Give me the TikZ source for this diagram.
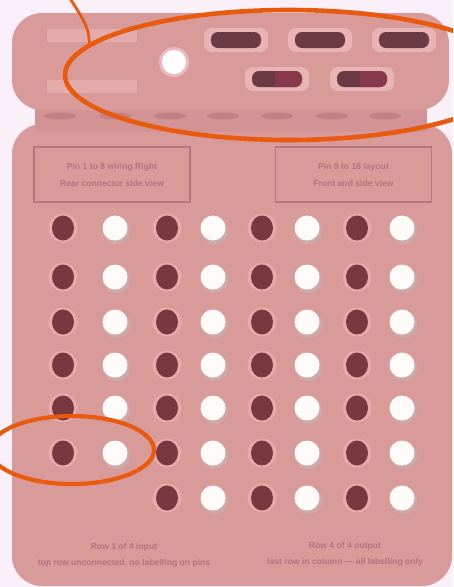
\documentclass[tikz,border=0pt]{standalone}
\usepackage{fontspec}
\setmainfont{Liberation Sans}
\usetikzlibrary{shapes.geometric}
\definecolor{bgc}{HTML}{FAF0FA}
\definecolor{bodyc}{HTML}{D99A9A}
\definecolor{stripc}{HTML}{D39293}
\definecolor{slotc}{HTML}{C28186}
\definecolor{barc}{HTML}{E3ACAB}
\definecolor{portout}{HTML}{E8B5B4}
\definecolor{portin}{HTML}{6B3A44}
\definecolor{portred}{HTML}{86394A}
\definecolor{darkc}{HTML}{793840}
\definecolor{ringc}{HTML}{E9A8AB}
\definecolor{whitec}{HTML}{FFFBF8}
\definecolor{shadc}{HTML}{CDAAAA}
\definecolor{boxc}{HTML}{B47780}
\definecolor{textc}{HTML}{B17480}
\definecolor{orng}{HTML}{E85A0E}
\tikzset{
  ring/.style={circle, fill=ringc, minimum size=29pt, inner sep=0pt},
  darkdot/.style={ellipse, fill=darkc, minimum width=22pt, minimum height=25pt, inner sep=0pt},
  shadowdot/.style={circle, fill=shadc, minimum size=27pt, inner sep=0pt},
  whitedot/.style={circle, fill=whitec, minimum size=25pt, inner sep=0pt},
  portbox/.style={rectangle, rounded corners=8pt, fill=portout, minimum width=64pt, minimum height=24pt, inner sep=0pt},
  portslot/.style={rectangle, rounded corners=7pt, fill=portin, minimum width=50pt, minimum height=16pt, inner sep=0pt},
  slot/.style={ellipse, fill=slotc, minimum width=32pt, minimum height=7pt, inner sep=0pt},
  bar/.style={rectangle, fill=barc, minimum width=90pt, minimum height=13pt, inner sep=0pt},
  labelbox/.style={rectangle, draw=boxc, line width=1.3pt, minimum width=156pt, minimum height=55pt, inner sep=0pt, text=textc, align=center, font=\bfseries\fontsize{8.6}{17}\selectfont},
  caption/.style={text=textc, align=center, font=\bfseries\fontsize{8.6}{16}\selectfont, inner sep=0pt},
  mark ellipse/.style={ellipse, draw=orng, inner sep=0pt},
}
\begin{document}
\begin{tikzpicture}[x=1pt,y=-1pt]
\useasboundingbox (0,0) rectangle (453,587);
\fill[bgc] (0,0) rectangle (453,587);
\begin{scope}
\clip (0,0) rectangle (453,587);
% lower unit
\fill[bodyc, rounded corners=30pt] (12,124) rectangle (452,586);
% strip between units
\fill[stripc] (35,104) rectangle (427,132);
\foreach \i/\x in {1/60,2/115,3/170,4/223,5/277,6/332,7/385}
  \node[slot] (s\i) at (\x,116) {};
% upper unit
\fill[bodyc, rounded corners=30pt] (12,13) rectangle (449,110);
\node[bar] (bar1) at (92,35) {};
\node[bar] (bar2) at (92,86) {};
\node[circle, fill=ringc!80!white, minimum size=30pt, inner sep=0pt] (led) at (174,62) {};
\node[circle, fill=white, minimum size=24pt, inner sep=0pt] at (led) {};
% ports
\foreach \n/\x/\y in {p1/236/40, p2/320/40, p3/404/40, p4/277/79, p5/362/79} {
  \node[portbox] (\n) at (\x,\y) {};
  \node[portslot] (\n in) at (\x,\y) {};
}
\foreach \n in {p4,p5} {
  \begin{scope}
    \clip ([xshift=-2pt]\n in.north) rectangle (\n in.south east);
    \node[portslot, fill=portred] at (\n in) {};
  \end{scope}
}
% label boxes
\node[labelbox] (lbox) at (112,174.5) {Pin 1 to 8 wiring Right\\Rear connector side view};
\node[labelbox] (rbox) at (353.5,174.5) {Pin 9 to 16 layout\\Front and side view};
% dot grid
\foreach \r/\y in {1/228,2/277,3/322,4/365,5/408,6/453} {
  \foreach \c/\x in {1/63,2/115,3/167,4/213,5/262,6/307,7/357,8/402} {
    \ifodd\c
      \node[ring] at (\x,\y) {};
      \node[darkdot] (d\r-\c) at (\x,\y) {};
    \else
      \node[shadowdot] at (\x+1.5,\y+2.5) {};
      \node[whitedot] (d\r-\c) at (\x,\y) {};
    \fi
  }
}
\foreach \c/\x in {3/167,4/213,5/262,6/307,7/357,8/402} {
  \ifodd\c
    \node[ring] at (\x,498) {};
    \node[darkdot] (d7-\c) at (\x,498) {};
  \else
    \node[shadowdot] at (\x+1.5,500.5) {};
    \node[whitedot] (d7-\c) at (\x,498) {};
  \fi
}
% captions
\node[caption] (capl) at (124,555) {Row 1 of 4 input\\top row unconnected, no labelling on pins};
\node[caption] (capr) at (345,554) {Row 4 of 4 output\\last row in column --- all labelling only};
% orange highlights
\node[mark ellipse, line width=4.6pt, minimum width=448pt, minimum height=130pt] (ebig) at (289,75) {};
\node[mark ellipse, line width=4.2pt, minimum width=164pt, minimum height=68pt] (esmall) at (72,450) {};
\coordinate (lead) at (69,-3);
\draw[orng, line width=2.8pt] (lead) .. controls (80,14) and (90,28) .. (ebig.171.4);
\end{scope}
\end{tikzpicture}
\end{document}
